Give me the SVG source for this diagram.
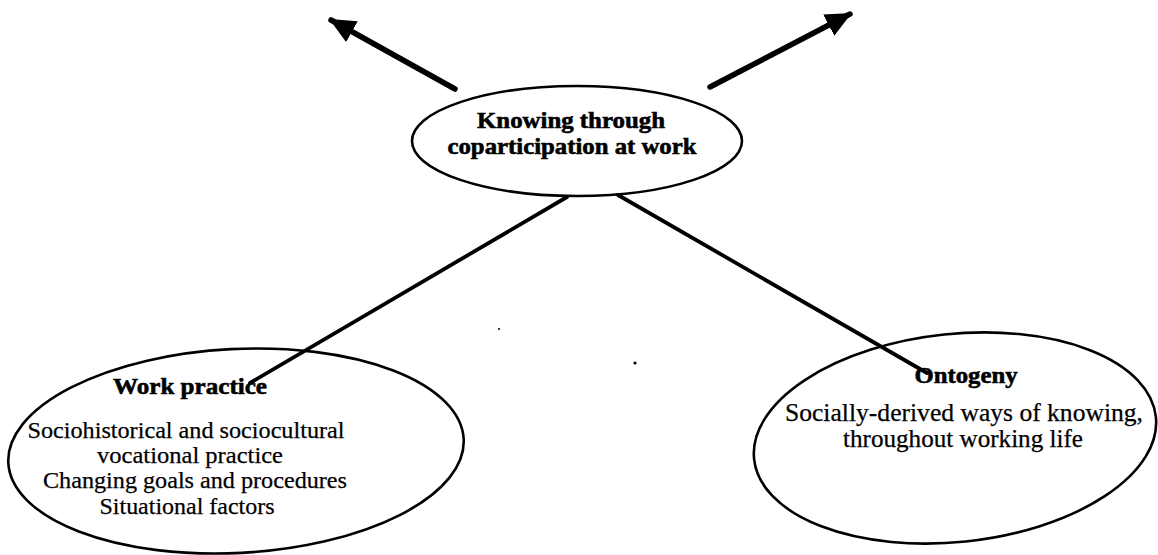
<svg xmlns="http://www.w3.org/2000/svg" width="1158" height="555" viewBox="0 0 1158 555">
<style>
.ell{fill:none;stroke:#000;stroke-width:2.6}
.con{stroke:#000;stroke-width:3.8;fill:none;stroke-linecap:round}
.arr{stroke:#000;stroke-width:5.5;fill:none;stroke-linecap:round}
.b{font-family:"Liberation Serif",serif;font-weight:bold;font-size:24px;fill:#000;stroke:#000;stroke-width:0.6;text-anchor:middle}
.r{font-family:"Liberation Serif",serif;font-size:24px;fill:#000;stroke:#000;stroke-width:0.25;text-anchor:middle}
.r2{font-family:"Liberation Serif",serif;font-size:25px;fill:#000;stroke:#000;stroke-width:0.25;text-anchor:middle}
</style>
<defs>
<marker id="ah" markerUnits="userSpaceOnUse" markerWidth="30" markerHeight="28" refX="24" refY="12" orient="auto">
<path d="M0,0 L26,12 L0,24 Z" fill="#000"/>
</marker>
</defs>
<rect width="1158" height="555" fill="#fff"/>
<g id="connectors">
<line class="arr" x1="455" y1="89" x2="331" y2="20" marker-end="url(#ah)"/>
<line class="arr" x1="710" y1="87" x2="850" y2="14" marker-end="url(#ah)"/>
<line class="con" x1="567" y1="197" x2="250" y2="383"/>
<line class="con" x1="618" y1="195" x2="927" y2="373"/>
</g>
<g id="knowing">
<ellipse class="ell" cx="577" cy="141" rx="165" ry="55"/>
<text class="b" x="571" y="128" textLength="188" lengthAdjust="spacingAndGlyphs">Knowing through</text>
<text class="b" x="572" y="154" textLength="249" lengthAdjust="spacingAndGlyphs">coparticipation at work</text>
</g>
<g id="work-practice">
<ellipse class="ell" cx="236" cy="451" rx="228" ry="102" transform="rotate(-3 236 451)"/>
<text class="b" x="190" y="394" textLength="154" lengthAdjust="spacingAndGlyphs">Work practice</text>
<text class="r" x="186" y="438" textLength="317" lengthAdjust="spacingAndGlyphs">Sociohistorical and sociocultural</text>
<text class="r" x="190" y="463" textLength="186" lengthAdjust="spacingAndGlyphs">vocational practice</text>
<text class="r" x="195" y="488" textLength="304" lengthAdjust="spacingAndGlyphs">Changing goals and procedures</text>
<text class="r" x="187" y="514" textLength="175" lengthAdjust="spacingAndGlyphs">Situational factors</text>
</g>
<g id="ontogeny">
<ellipse class="ell" cx="955" cy="438" rx="202" ry="104" transform="rotate(-6 955 438)"/>
<text class="b" x="966" y="383" textLength="103" lengthAdjust="spacingAndGlyphs">Ontogeny</text>
<text class="r2" x="964" y="421" textLength="358" lengthAdjust="spacingAndGlyphs">Socially-derived ways of knowing,</text>
<text class="r2" x="963" y="447" textLength="240" lengthAdjust="spacingAndGlyphs">throughout working life</text>
</g>
<g id="specks">
<circle cx="635" cy="363" r="1.6" fill="#000"/>
<circle cx="499" cy="329" r="1" fill="#000"/>
</g>
</svg>
